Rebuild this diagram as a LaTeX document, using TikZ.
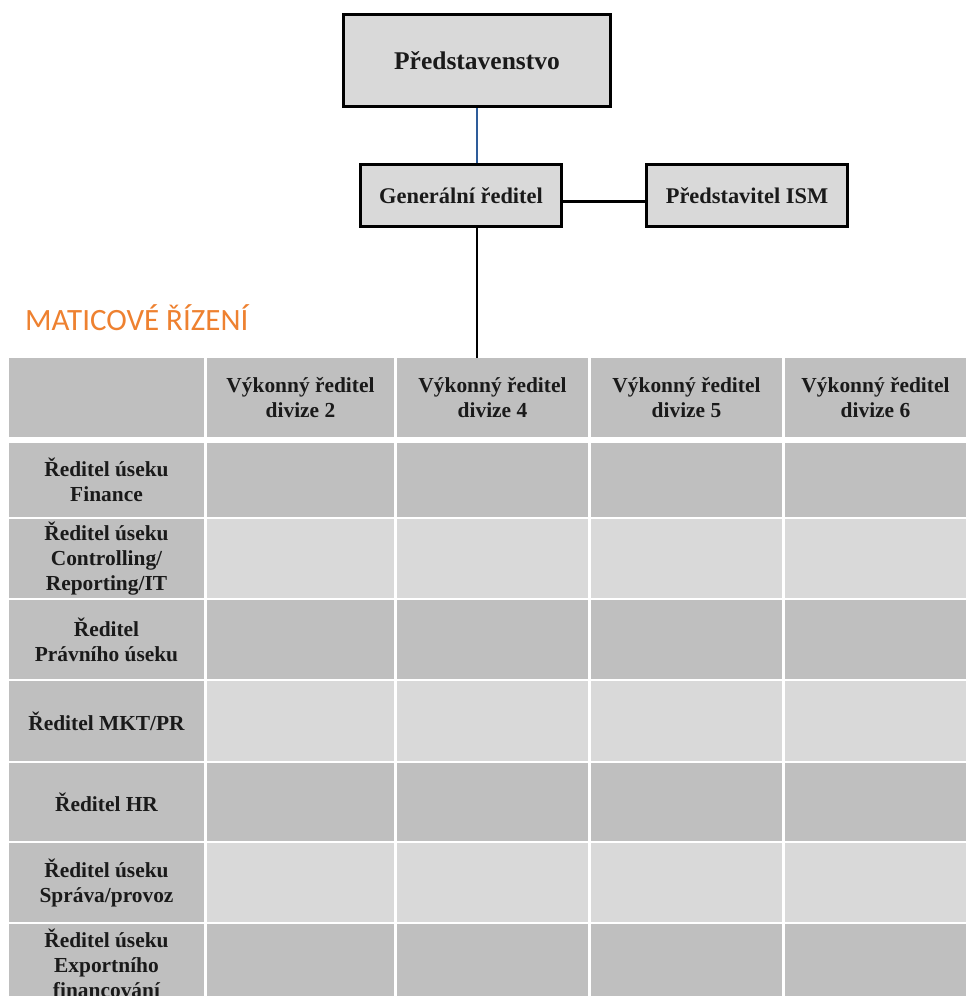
\documentclass[tikz,border=0pt]{standalone}
\usepackage{fontspec}
\setmainfont{Liberation Serif}
\newfontfamily\titlefont{Carlito}

\definecolor{cellDark}{HTML}{BFBFBF}
\definecolor{cellLight}{HTML}{D9D9D9}
\definecolor{boxFill}{HTML}{D9D9D9}
\definecolor{titleOrange}{HTML}{EE8130}
\definecolor{linkBlue}{HTML}{2E5C9A}
\definecolor{inkText}{HTML}{1A1A1A}

\tikzset{
  orgbox/.style={draw=black, line width=3pt, fill=boxFill, inner sep=0pt,
    text=inkText, font=\bfseries\fontsize{22.4}{26}\selectfont},
  cell/.style={inner sep=0pt, align=center, text=inkText,
    font=\bfseries\fontsize{21.4}{25}\selectfont}
}

\begin{document}
\begin{tikzpicture}[x=1pt,y=-1pt]
\useasboundingbox (0,0) rectangle (966,996);
\fill[white] (0,0) rectangle (966,996);

% vedeni
\node[orgbox, minimum width=267, minimum height=92, font=\bfseries\fontsize{25.5}{30}\selectfont] (board) at (477,60.5) {Představenstvo};
\node[orgbox, minimum width=201, minimum height=62] (ceo) at (461,195.5) {Generální ředitel};
\node[orgbox, minimum width=201, minimum height=62] (ism) at (747,195.5) {Představitel ISM};

% nadpis
\node[anchor=base west, inner sep=0pt, text=titleOrange, font=\titlefont\fontsize{31}{31}\selectfont] (title) at (25,330) {MATICOVÉ ŘÍZENÍ};

% hlavicka tabulky
\node[cell, fill=cellDark, minimum width=195, minimum height=79] (corner) at (106.5,397.5) {};
\foreach \xa/\xb/\n in {207/394/2,397/588/4,591/782/5,785/966/6}
  \node[cell, fill=cellDark, minimum width={\xb-\xa}, minimum height=79] (div\n) at ({(\xa+\xb)/2},397.5) {Výkonný ředitel\\divize \n};

% radky
\node[cell, fill=cellDark, minimum width=195, minimum height=74] (fin) at (106.5,480) {Ředitel úseku\\Finance};
\node[cell, fill=cellDark, minimum width=195, minimum height=79] (ctrl) at (106.5,558.5) {Ředitel úseku\\Controlling/\\Reporting/IT};
\node[cell, fill=cellDark, minimum width=195, minimum height=79] (legal) at (106.5,639.5) {Ředitel\\Právního úseku};
\node[cell, fill=cellDark, minimum width=195, minimum height=80] (mkt) at (106.5,721) {Ředitel MKT/PR};
\node[cell, fill=cellDark, minimum width=195, minimum height=78] (hr) at (106.5,802) {Ředitel HR};
\node[cell, fill=cellDark, minimum width=195, minimum height=79] (admin) at (106.5,882.5) {Ředitel úseku\\Správa/provoz};
\node[cell, fill=cellDark, minimum width=195, minimum height=78] (export) at (106.5,963) {Ředitel úseku\\Exportního\\financování};

\foreach \ya/\yb/\tone [count=\r] in {443/517/cellDark,519/598/cellLight,600/679/cellDark,681/761/cellLight,763/841/cellDark,843/922/cellLight,924/1002/cellDark}
  \foreach \xa/\xb [count=\c] in {207/394,397/588,591/782,785/966}
    \node[cell, fill=\tone, minimum width={\xb-\xa}, minimum height={\yb-\ya}] (c\r-\c) at ({(\xa+\xb)/2},{(\ya+\yb)/2}) {};

% spojnice
\draw[linkBlue, line width=2pt] (board.south) -- (board.south |- ceo.north);
\draw[line width=2.5pt] ([yshift=-6pt]ceo.east) -- ([yshift=-6pt]ism.west);
\draw[line width=2.5pt] (board.south |- ceo.south) -- (board.south |- div4.north);
\end{tikzpicture}
\end{document}
